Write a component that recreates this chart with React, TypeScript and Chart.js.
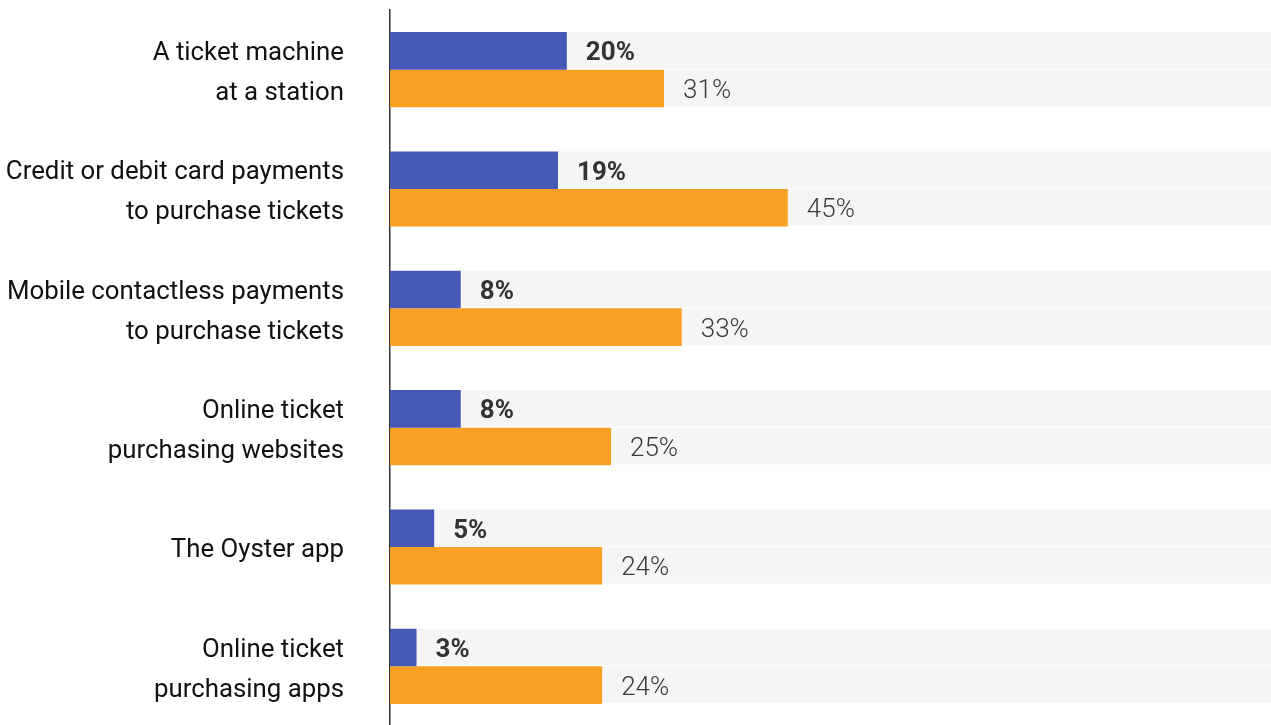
import React, { useEffect, useRef } from "react";
import { Chart, registerables } from "chart.js";

Chart.register(...registerables);

const categories: string[][] = [
  ["A ticket machine", "at a station"],
  ["Credit or debit card payments", "to purchase tickets"],
  ["Mobile contactless payments", "to purchase tickets"],
  ["Online ticket", "purchasing websites"],
  ["The Oyster app"],
  ["Online ticket", "purchasing apps"],
];

const seriesA: number[] = [20, 19, 8, 8, 5, 3];
const seriesB: number[] = [31, 45, 33, 25, 24, 24];

const colorA = "#4759b8";
const colorB = "#f7a023";

const bgPlugin = {
  id: "bgBars",
  beforeDraw(chart: any) {
    const scale = chart.scales.y;
    if (scale && scale.getLabelItems) {
      const items = scale.getLabelItems(chart.chartArea);
      items.forEach((it: any) => {
        if (!it.__shifted) {
          it.options.translation[1] += 4;
          it.__shifted = true;
        }
      });
    }
  },
  beforeDatasetsDraw(chart: any) {
    const { ctx, chartArea } = chart;
    ctx.save();
    ctx.fillStyle = "#f5f5f5";
    chart.data.datasets.forEach((_: any, di: number) => {
      const meta = chart.getDatasetMeta(di);
      meta.data.forEach((el: any) => {
        const { y, height } = el.getProps(["y", "height"], true);
        ctx.fillRect(chartArea.left, y - height / 2, chartArea.right - chartArea.left, height - 1);
      });
    });
    ctx.restore();
  },
};

const labelPlugin = {
  id: "valueLabels",
  afterDatasetsDraw(chart: any) {
    const { ctx } = chart;
    ctx.save();
    ctx.textBaseline = "alphabetic";
    ctx.textAlign = "left";
    chart.data.datasets.forEach((ds: any, di: number) => {
      const meta = chart.getDatasetMeta(di);
      meta.data.forEach((el: any, i: number) => {
        const { x, y } = el.getProps(["x", "y"], true);
        if (di === 0) {
          ctx.font = "bold 26px Roboto";
          ctx.fillStyle = "#333333";
        } else {
          ctx.font = "300 26px Roboto";
          ctx.fillStyle = "#3a3a3a";
        }
        ctx.fillText(ds.data[i] + "%", x + 19, y + 9.5);
      });
    });
    ctx.restore();
  },
};

export default function App() {
  const ref = useRef<HTMLCanvasElement | null>(null);

  useEffect(() => {
    if (!ref.current) return;
    const chart = new Chart(ref.current, {
      type: "bar",
      data: {
        labels: categories,
        datasets: [
          { data: seriesA, backgroundColor: colorA, borderWidth: 0 },
          { data: seriesB, backgroundColor: colorB, borderWidth: 0 },
        ],
      },
      options: {
        indexAxis: "y",
        animation: false,
        responsive: false,
        maintainAspectRatio: false,
        categoryPercentage: 0.63,
        barPercentage: 1,
        layout: { padding: { top: 10, bottom: 0, left: 0, right: 0 } },
        plugins: {
          legend: { display: false },
          tooltip: { enabled: false },
        },
        scales: {
          x: {
            display: false,
            min: 0,
            max: 100,
          },
          y: {
            afterFit: (s: any) => {
              s.width = 390;
              s.paddingTop = 0;
              s.paddingBottom = 0;
            },
            grid: { display: false, drawTicks: false },
            border: { display: true, color: "#333333", width: 1.5 },
            ticks: {
              padding: 46,
              color: "#111111",
              font: { family: "Roboto", size: 25.8, lineHeight: 40 / 25.8 },
            },
          },
        },
      },
      plugins: [bgPlugin, labelPlugin],
    });
    return () => chart.destroy();
  }, []);

  return (
    <div
      style={{
        position: "absolute",
        left: 0,
        top: 0,
        width: 1271,
        height: 725,
        overflow: "hidden",
        background: "#ffffff",
      }}
    >
      <canvas ref={ref} width={1274} height={726} style={{ display: "block" }} />
    </div>
  );
}
